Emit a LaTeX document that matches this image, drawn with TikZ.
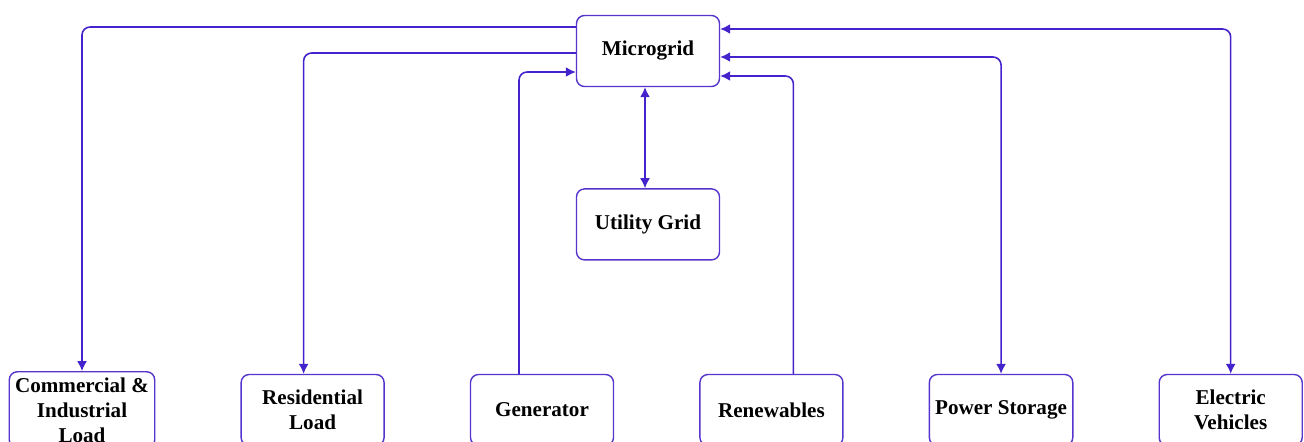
\documentclass[tikz,border=0pt]{standalone}
\usepackage{fontspec}
\setmainfont{Liberation Serif}
\usetikzlibrary{shapes.geometric, arrows.meta, positioning}

\definecolor{boxline}{HTML}{5535CC}
\definecolor{wireblue}{HTML}{4422CC}

\begin{document}
\begin{tikzpicture}[node distance=2.02cm and 1.70cm, auto,
    >={Latex[length=0.2cm, width=0.2cm]},
    unit/.style={rectangle, draw=boxline, line width=0.8pt, fill=white, rounded corners=0.16cm, minimum width=2.86cm, minimum height=1.42cm, align=center, font=\fontsize{12}{14.2}\selectfont\bfseries},
    wire/.style={draw=wireblue, line width=0.9pt, rounded corners=0.16cm}]
    \clip (0,0) rectangle (26.08,-8.82);
    \node [unit] (mg) at (12.96,-1.02) {Microgrid};
    \node [unit, below=of mg] (ug) {Utility Grid};
    \node [unit] (cil) at (1.64,-8.2) {Commercial \&\\Industrial\\Load};
    \node [unit, right=of cil] (res) {Residential\\Load};
    \node [unit, right=of res] (gen) {Generator};
    \node [unit, right=of gen] (ren) {Renewables};
    \node [unit, right=of ren] (ps) {Power Storage};
    \node [unit, right=of ps] (ev) {Electric\\Vehicles};
    % loads fed from the microgrid
    \draw [wire, <-] (cil.north) |- ([yshift=0.48cm]mg.west);
    \draw [wire, <-] ([xshift=-0.18cm]res.north) |- ([yshift=-0.04cm]mg.west);
    % sources feeding the microgrid
    \draw [wire, ->] ([xshift=-0.46cm]gen.north) |- ([yshift=-0.42cm]mg.west);
    \draw [wire, ->] ([xshift=0.44cm]ren.north) |- ([yshift=-0.5cm]mg.east);
    % two-way links
    \draw [wire, <->] (ps.north) |- ([yshift=-0.12cm]mg.east);
    \draw [wire, <->] (ev.north) |- ([yshift=0.44cm]mg.east);
    \draw [wire, <->] ([xshift=-0.06cm]mg.south) -- ([xshift=-0.06cm]ug.north);
\end{tikzpicture}
\end{document}
